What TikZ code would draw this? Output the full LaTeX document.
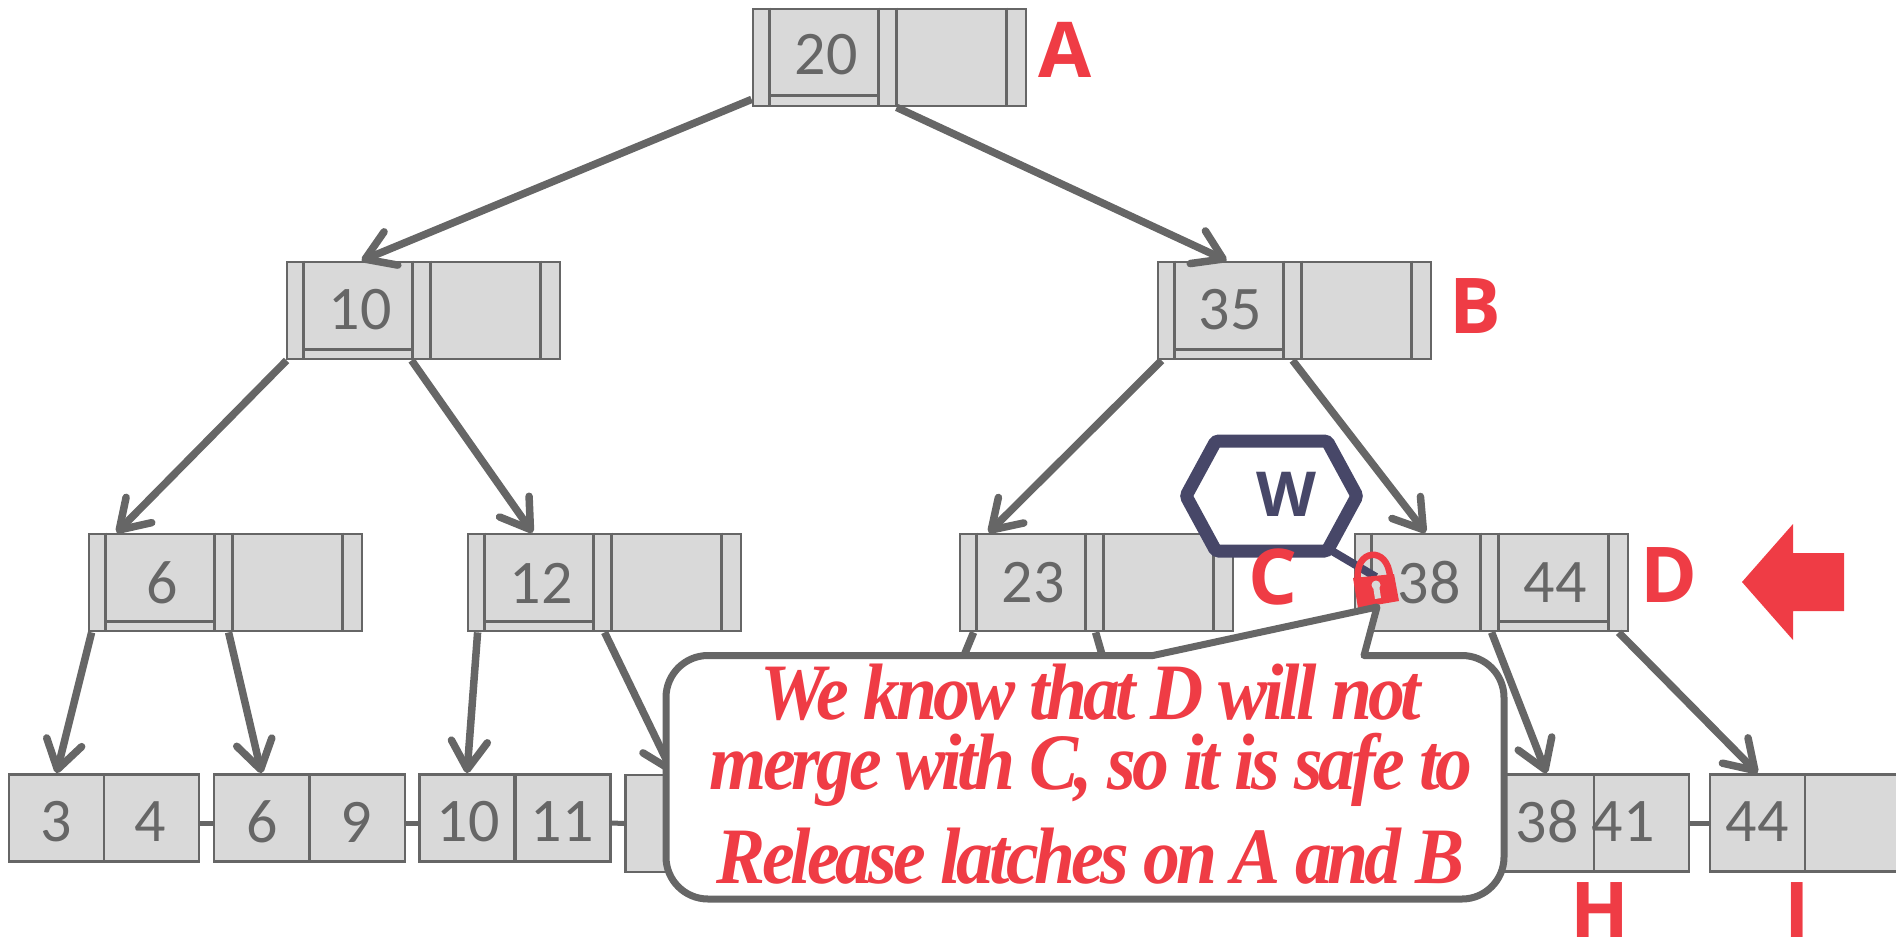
\documentclass[tikz,border=0pt]{standalone}
\usepackage{fontspec}
\usepackage{xcolor}
\usetikzlibrary{arrows.meta,shapes.symbols}
\setmainfont{Carlito}
\newfontfamily\labelfont{Open Sans}
\newfontfamily\notefont[FakeStretch=0.92,LetterSpace=-5]{Liberation Serif}
\definecolor{lineGray}{HTML}{666666}
\definecolor{cellGray}{HTML}{D9D9D9}
\definecolor{noteRed}{HTML}{EF3C45}
\definecolor{latchBlue}{HTML}{474768}
\tikzset{
  innerbox/.style={draw=lineGray,fill=cellGray,line width=2.8pt,inner sep=0pt,minimum width=273pt,minimum height=97pt},
  leafcell/.style={draw=lineGray,fill=cellGray,line width=2.8pt,inner sep=0pt,minimum width=95pt},
  slotline/.style={draw=lineGray,line width=2.8pt},
  keytext/.style={text=lineGray,inner sep=0pt,font=\fontsize{62pt}{62pt}\selectfont},
  letter/.style={text=noteRed,inner sep=0pt,anchor=base,font=\fontsize{77pt}{77pt}\labelfont\bfseries},
  edge/.style={draw=lineGray,line width=7.5pt,-{Straight Barb[length=28pt,width=36pt,round]}},
  stub/.style={draw=lineGray,line width=7.5pt},
  leaflink/.style={draw=lineGray,line width=5pt},
}
\newcommand{\innernode}[3]{
  \node[innerbox] (#1) at (#2,#3) {};
  \draw[slotline] ([xshift=18pt]#1.north west) -- ([xshift=18pt]#1.south west);
  \draw[slotline] ([xshift=127pt]#1.north west) -- ([xshift=127pt]#1.south west);
  \draw[slotline] ([xshift=145pt]#1.north west) -- ([xshift=145pt]#1.south west);
  \draw[slotline] ([xshift=255pt]#1.north west) -- ([xshift=255pt]#1.south west);
}
\begin{document}
\begin{tikzpicture}[x=1pt,y=-1pt]
  \useasboundingbox (0,0) rectangle (1896,937);

  % inner nodes
  \innernode{a}{889.5}{57.5}
  \innernode{b}{1294.5}{310.5}
  \innernode{e}{423.5}{310.5}
  \innernode{f}{225.5}{582.5}
  \innernode{g}{604.5}{582.5}
  \innernode{c}{1096.5}{582.5}
  \innernode{d}{1491.5}{582.5}

  % frames under the keys
  \draw[slotline] ([shift={(18pt,12pt)}]a.south west) -- ([shift={(127pt,12pt)}]a.south west);
  \draw[slotline] ([shift={(18pt,11pt)}]b.south west) -- ([shift={(127pt,11pt)}]b.south west);
  \draw[slotline] ([shift={(18pt,11pt)}]e.south west) -- ([shift={(127pt,11pt)}]e.south west);
  \draw[slotline] ([shift={(18pt,11pt)}]f.south west) -- ([shift={(127pt,11pt)}]f.south west);
  \draw[slotline] ([shift={(18pt,11pt)}]g.south west) -- ([shift={(127pt,11pt)}]g.south west);
  \draw[slotline] ([shift={(145pt,11pt)}]d.south west) -- ([shift={(255pt,11pt)}]d.south west);

  % keys
  \node[keytext] (ka) at (826,55) {20};
  \node[keytext] (kb) at (1230,310) {35};
  \node[keytext] (ke) at (360,310) {10};
  \node[keytext] (kf) at (162,583) {6};
  \node[keytext] (kg) at (541,583) {12};
  \node[keytext] (kc) at (1033,583) {23};
  \node[keytext] (kd) at (1429,583) {38};
  \node[keytext] (kd2) at (1555,583) {44};

  % leaves
  \node[leafcell,minimum height=87pt] (l1) at (56.5,818) {};
  \node[leafcell,minimum height=87pt] (m1) at (151.5,818) {};
  \node[leafcell,minimum height=87pt] (l2) at (261.5,818) {};
  \node[leafcell,minimum height=87pt] (m2) at (357.5,818) {};
  \node[leafcell,minimum height=87pt] (l3) at (467,818) {};
  \node[leafcell,minimum height=87pt] (m3) at (563,818) {};
  \node[leafcell,minimum height=97pt] (l4) at (673,823.5) {};
  \node[leafcell,minimum height=97pt] (lh) at (1546.5,823) {};
  \node[leafcell,minimum height=97pt] (mh) at (1641.5,823) {};
  \node[leafcell,minimum height=97pt] (li) at (1757.5,823) {};
  \node[leafcell,minimum height=97pt] (mi) at (1852.5,823) {};

  \node[keytext] (k3) at (56,822) {3};
  \node[keytext] (k4) at (150,822) {4};
  \node[keytext] (k6) at (262,822) {6};
  \node[keytext] (k9) at (356,822) {9};
  \node[keytext] (k10) at (468,822) {10};
  \node[keytext] (k11) at (562,822) {11};
  \node[keytext] (k38) at (1547,822) {38};
  \node[keytext] (k41) at (1623,822) {41};
  \node[keytext] (k44) at (1757,822) {44};

  \draw[leaflink] ([yshift=-5pt]m1.east) -- ([yshift=-5pt]l2.west);
  \draw[leaflink] ([yshift=-5pt]m2.east) -- ([yshift=-5pt]l3.west);
  \draw[leaflink] ([yshift=-5pt]m3.east) -- (l4.west);
  \draw[leaflink] (mh.east) -- (li.west);

  % tree edges
  \draw[edge] ([yshift=8pt]a.south west) -- ([xshift=76pt]e.north west);
  \draw[edge] ([xshift=145pt]a.south west) -- ([xshift=70pt]b.north west);
  \draw[edge] ([xshift=1pt]e.south west) -- ([xshift=29pt]f.north west);
  \draw[edge] ([xshift=126pt]e.south west) -- ([xshift=66pt]g.north west);
  \draw[edge] ([xshift=5pt]b.south west) -- ([xshift=30pt]c.north west);
  \draw[edge] ([xshift=136pt]b.south west) -- ([xshift=72pt]d.north west);
  \draw[edge] ([xshift=4pt]f.south west) -- (l1.north);
  \draw[edge] ([xshift=141pt]f.south west) -- (l2.north);
  \draw[edge] ([xshift=11pt]g.south west) -- (l3.north);
  \draw[edge] ([xshift=138pt]g.south west) -- (l4.north);
  \draw[edge] ([xshift=138pt]d.south west) -- (lh.north);
  \draw[edge] ([xshift=265pt]d.south west) -- (li.north);
  \coordinate (s1) at (963,658);
  \coordinate (s2) at (1103,658);
  \draw[stub] ([xshift=15pt]c.south west) -- (s1);
  \draw[stub] ([xshift=137pt]c.south west) -- (s2);

  % red labels
  \node[letter] (la) at (1065,77) {A};
  \node[letter] (lb) at (1475,333) {B};
  \node[letter] (ld) at (1669,602) {D};
  \node[letter] (lhh) at (1600,937) {H};
  \node[letter] (lii) at (1797,937) {I};

  \fill[noteRed] (1742,582) -- (1793,524) -- (1793,553) -- (1844,553) -- (1844,611) -- (1793,611) -- (1793,640) -- cycle;

  % write latch
  \node[signal,signal to=east and west,signal pointer angle=123,draw=latchBlue,fill=white,line width=13pt,
    rounded corners=3pt,inner sep=0pt,minimum width=171pt,minimum height=110pt] (w) at (1271.5,496) {};
  \node[text=latchBlue,inner sep=0pt,font=\fontsize{62pt}{62pt}\labelfont\bfseries] (wt) at (1286,494) {W};
  \node[letter] (lc) at (1273,604) {C};
  \coordinate (lk) at (1376,577);
  \draw[latchBlue,line width=8pt] (1332,551) -- (lk);

  % latch symbol
  \draw[noteRed,line width=6.5pt] (1358,580) .. controls (1354,549) and (1388,545) .. (1390,577);
  \fill[noteRed] (1353,578) -- (1394,574) -- (1399,601) -- (1358,608) -- cycle;
  \fill[cellGray] (1376,585) circle (4.5pt);
  \fill[cellGray] (1373,586) -- (1379,585) -- (1381,598) -- (1375,599) -- cycle;

  % note
  \draw[draw=lineGray,fill=white,line width=7pt,line join=round]
    (900,655.5) -- (1153,655.5) -- (1377,607) -- (1364,655.5) [rounded corners=42pt] -- (1504,655.5) -- (1504,899)
    -- (666,899) -- (666,655.5) [sharp corners] -- cycle;
  \node[text=noteRed,inner sep=0pt,anchor=base,align=center,
    font=\fontsize{80pt}{70pt}\notefont\bfseries\itshape] (note) at (1091,883)
    {We know that D will not\\merge with C, so it is safe to\\[20pt]Release latches on A and B};
\end{tikzpicture}
\end{document}
